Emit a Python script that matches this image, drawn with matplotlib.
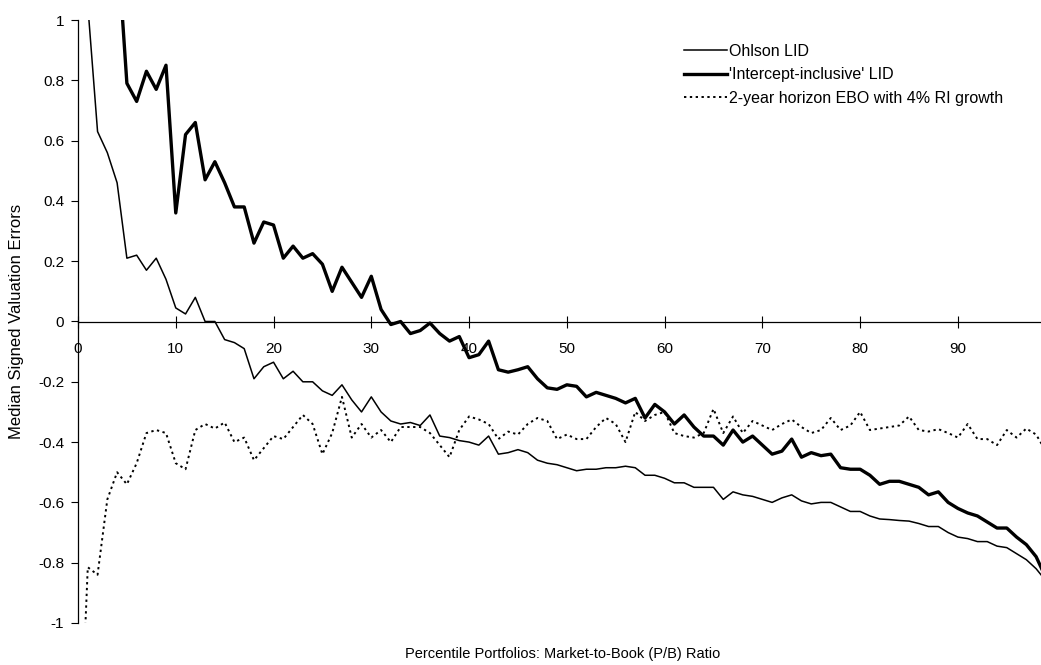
import numpy as np
import matplotlib
matplotlib.use("Agg")
import matplotlib.pyplot as plt
from matplotlib.ticker import FuncFormatter, MultipleLocator

plt.rcParams['font.family'] = ['Liberation Sans', 'DejaVu Sans']

# percentile portfolios (0 is only a lead-in point for the EBO line)
pct = np.arange(0, 101)

nan = np.nan
ohlson_lid = [nan,
    1.05, 0.63, 0.56, 0.46, 0.21, 0.22, 0.17, 0.21, 0.14, 0.045,
    0.025, 0.08, 0.0, 0.0, -0.06, -0.07, -0.09, -0.19, -0.15, -0.135,
    -0.19, -0.165, -0.20, -0.20, -0.23, -0.245, -0.21, -0.26, -0.30, -0.25,
    -0.30, -0.33, -0.34, -0.335, -0.345, -0.31, -0.38, -0.385, -0.395, -0.40,
    -0.41, -0.38, -0.44, -0.435, -0.425, -0.435, -0.46, -0.47, -0.475, -0.485,
    -0.495, -0.49, -0.49, -0.485, -0.485, -0.48, -0.485, -0.51, -0.51, -0.52,
    -0.535, -0.535, -0.55, -0.55, -0.55, -0.59, -0.565, -0.575, -0.58, -0.59,
    -0.60, -0.585, -0.575, -0.595, -0.605, -0.60, -0.60, -0.615, -0.63, -0.63,
    -0.645, -0.655, -0.657, -0.66, -0.662, -0.67, -0.68, -0.68, -0.70, -0.715,
    -0.72, -0.73, -0.73, -0.745, -0.75, -0.77, -0.79, -0.82, -0.86, -0.90]

intercept_lid = [nan,
    2.6, 2.0, 1.6, 1.27, 0.79, 0.73, 0.83, 0.77, 0.85, 0.36,
    0.62, 0.66, 0.47, 0.53, 0.46, 0.38, 0.38, 0.26, 0.33, 0.32,
    0.21, 0.25, 0.21, 0.225, 0.19, 0.10, 0.18, 0.13, 0.08, 0.15,
    0.04, -0.01, 0.0, -0.04, -0.03, -0.005, -0.04, -0.065, -0.05, -0.12,
    -0.11, -0.065, -0.16, -0.168, -0.16, -0.15, -0.19, -0.22, -0.225, -0.21,
    -0.215, -0.25, -0.235, -0.245, -0.255, -0.27, -0.255, -0.32, -0.275, -0.30,
    -0.34, -0.31, -0.35, -0.38, -0.38, -0.41, -0.36, -0.40, -0.38, -0.41,
    -0.44, -0.43, -0.39, -0.45, -0.435, -0.445, -0.44, -0.485, -0.49, -0.49,
    -0.51, -0.54, -0.53, -0.53, -0.54, -0.55, -0.575, -0.565, -0.60, -0.62,
    -0.635, -0.645, -0.665, -0.685, -0.685, -0.715, -0.74, -0.78, -0.85, -0.92]

ebo_2yr = [-1.6,
    -0.815, -0.84, -0.59, -0.50, -0.54, -0.47, -0.37, -0.36, -0.37, -0.47,
    -0.49, -0.36, -0.34, -0.355, -0.335, -0.40, -0.385, -0.46, -0.42, -0.38,
    -0.39, -0.35, -0.31, -0.34, -0.44, -0.37, -0.25, -0.385, -0.34, -0.385,
    -0.36, -0.40, -0.35, -0.35, -0.35, -0.37, -0.41, -0.45, -0.36, -0.315,
    -0.325, -0.34, -0.39, -0.365, -0.375, -0.34, -0.32, -0.33, -0.39, -0.375,
    -0.39, -0.39, -0.35, -0.32, -0.34, -0.40, -0.30, -0.33, -0.31, -0.30,
    -0.37, -0.38, -0.385, -0.37, -0.29, -0.37, -0.315, -0.37, -0.33, -0.345,
    -0.36, -0.34, -0.325, -0.35, -0.37, -0.36, -0.32, -0.36, -0.345, -0.30,
    -0.36, -0.355, -0.35, -0.345, -0.315, -0.36, -0.365, -0.357, -0.37, -0.385,
    -0.34, -0.39, -0.39, -0.41, -0.36, -0.385, -0.355, -0.375, -0.43, -0.46]

labels = ["Ohlson LID", "'Intercept-inclusive' LID",
          "2-year horizon EBO with 4% RI growth"]


def tick_fmt(v, pos):
    v = round(v, 2)
    if v == 0:
        return "0"
    return f"{v:g}"


fig = plt.figure(figsize=(10.41, 6.65), dpi=100)
ax = fig.add_axes([78 / 1041, 1 - 623 / 665, 963 / 1041, 603 / 665])

ax.plot(pct, ohlson_lid, color='black', lw=1.1, label=labels[0])
ax.plot(pct, intercept_lid, color='black', lw=2.4, label=labels[1])
ax.plot(pct, ebo_2yr, color='black', lw=1.4, linestyle=(0, (1.2, 1.8)),
        label=labels[2])

ax.set_xlim(0, 98.5)
ax.set_ylim(-1, 1)

# axes cross at zero, as in the original
ax.spines['top'].set_visible(False)
ax.spines['right'].set_visible(False)
ax.spines['bottom'].set_position(('data', 0))
ax.spines['left'].set_linewidth(0.9)
ax.spines['bottom'].set_linewidth(0.9)

ax.xaxis.set_major_locator(MultipleLocator(10))
ax.yaxis.set_major_locator(MultipleLocator(0.2))
ax.yaxis.set_major_formatter(FuncFormatter(tick_fmt))
ax.tick_params(axis='x', direction='inout', length=8, width=0.8,
               labelsize=11, pad=11)
ax.tick_params(axis='y', direction='out', length=5, width=0.8,
               labelsize=11, pad=5)

ax.set_ylabel("Median Signed Valuation Errors", fontsize=12)
ax.yaxis.set_label_coords(-0.056, 0.5)
ax.set_xlabel("Percentile Portfolios: Market-to-Book (P/B) Ratio", fontsize=10.5)
ax.xaxis.set_label_coords(0.503, -0.04)

ax.legend(loc='upper left', bbox_to_anchor=(684 / 1041, 1 - 44 / 665),
          bbox_transform=fig.transFigure, frameon=False, fontsize=11.5,
          handlelength=2.7, handletextpad=0.1, labelspacing=0.52,
          borderpad=0, borderaxespad=0)

fig.savefig("out.png", dpi=100)
